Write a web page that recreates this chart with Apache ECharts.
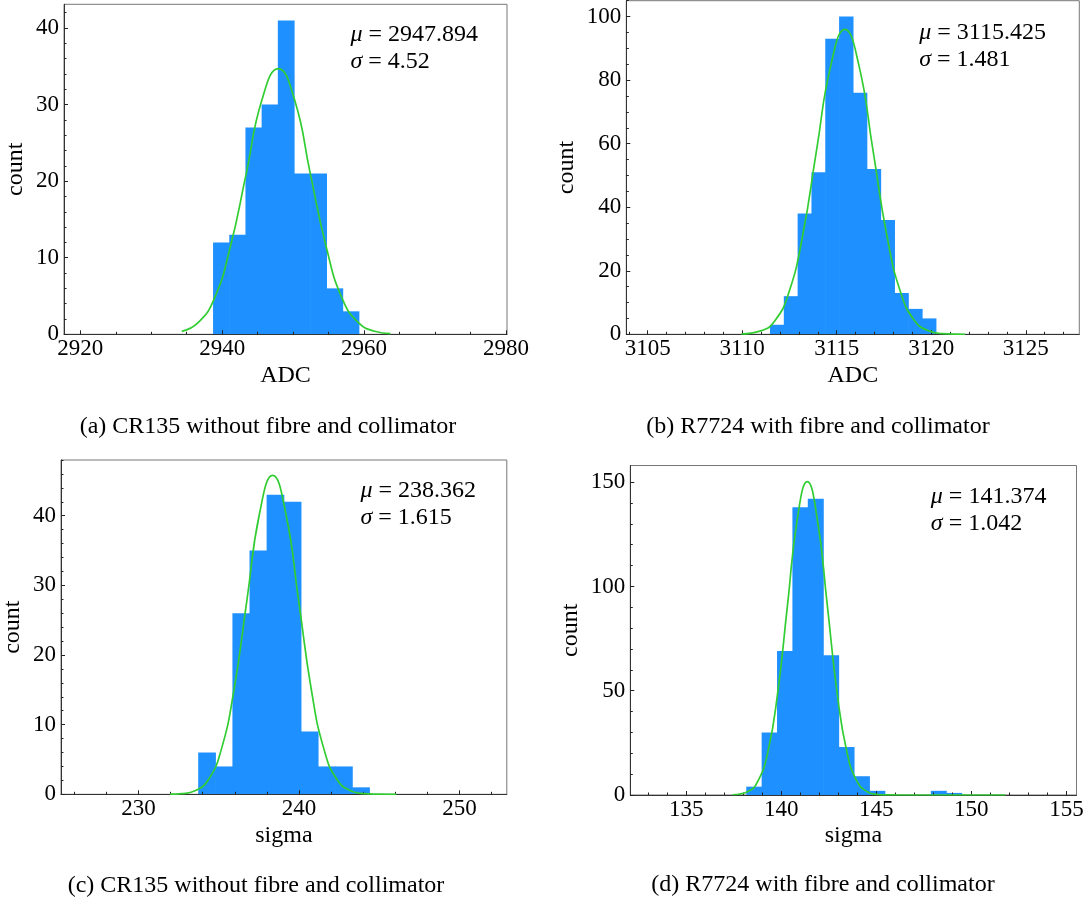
<!DOCTYPE html>
<html>
<head>
<meta charset="utf-8">
<script src="https://cdn.jsdelivr.net/npm/echarts@6/dist/echarts.min.js"></script>
<style>
  html, body { margin: 0; padding: 0; background: #fff; }
  #main { width: 1088px; height: 902px; }
</style>
</head>
<body>
<div id="main"></div>
<script>
// histogram bins: first edge, bin width, counts
var binStartA = 2938.71, binWidthA = 2.282;
var countsA = [12, 13, 27, 30, 41, 21, 21, 6, 3];
var binStartB = 3111.47, binWidthB = 0.731;
var countsB = [3, 12, 38, 51, 93, 100, 76, 52, 36, 13, 8, 5];
var binStartC = 233.72, binWidthC = 1.066;
var countsC = [6, 4, 26, 35, 43, 42, 9, 4, 4, 1];
var binStartD = 138.16, binWidthD = 0.809;
var countsD = [4, 30, 69, 138, 142, 67, 23, 9, 2, 0, 0, 0, 2, 1];

// fitted curves
var curveAX = [2934.3, 2936.6, 2938.9, 2941.1, 2943.4, 2945.6, 2947.9, 2950.2, 2952.4, 2954.7, 2956.9, 2959.2, 2961.5, 2963.7];
var curveAY = [0.39, 1.52, 4.70, 11.27, 21.05, 30.62, 34.7, 30.62, 21.05, 11.27, 4.70, 1.52, 0.39, 0.08];
var curveBX = [3109.95, 3110.98, 3111.72, 3112.46, 3113.20, 3113.94, 3114.69, 3115.43, 3116.17, 3116.91, 3117.65, 3118.39, 3119.13, 3119.87, 3120.61, 3121.79];
var curveBY = [0.10, 1.07, 4.21, 12.99, 31.17, 58.22, 84.72, 96.0, 84.72, 58.22, 31.17, 12.99, 4.21, 1.07, 0.21, 0.01];
var curveCX = [231.97, 232.71, 233.52, 234.33, 235.13, 235.94, 236.75, 237.55, 238.36, 239.17, 239.98, 240.78, 241.59, 242.40, 243.21, 244.01, 244.82, 246.07];
var curveCY = [0.02, 0.10, 0.51, 2.01, 6.20, 14.87, 27.78, 40.42, 45.8, 40.42, 27.78, 14.87, 6.20, 2.01, 0.51, 0.10, 0.02, 0];
var curveDX = [137.44, 138.25, 138.77, 139.29, 139.81, 140.33, 140.85, 141.37, 141.89, 142.42, 142.94, 143.46, 143.98, 144.50, 145.02, 145.54, 147.5, 149.5, 151.78];
var curveDY = [0.12, 1.67, 6.60, 20.34, 48.80, 91.16, 132.64, 150.3, 132.64, 91.16, 48.80, 20.34, 6.60, 1.67, 0.33, 0.05, 0, 0, 0];

// tick labels
var xTicksA = [2920, 2940, 2960, 2980], yTicksA = [0, 10, 20, 30, 40];
var xTicksB = [3105, 3110, 3115, 3120, 3125], yTicksB = [0, 20, 40, 60, 80, 100];
var xTicksC = [230, 240, 250], yTicksC = [0, 10, 20, 30, 40];
var xTicksD = [135, 140, 145, 150, 155], yTicksD = [0, 50, 100, 150];

var muA = '2947.894', sigmaA = '4.52';
var muB = '3115.425', sigmaB = '1.481';
var muC = '238.362', sigmaC = '1.615';
var muD = '141.374', sigmaD = '1.042';

var captionA = '(a) CR135 without fibre and collimator';
var captionB = '(b) R7724 with fibre and collimator';
var captionC = '(c) CR135 without fibre and collimator';
var captionD = '(d) R7724 with fibre and collimator';

var FONT = '"Liberation Serif", "Times New Roman", serif';
var BLUE = '#1E90FF';
var GREEN = '#32CD32';

function steps(from, to, step) {
    var out = [];
    for (var v = from; v <= to + 1e-9; v += step) out.push(+v.toFixed(6));
    return out;
}

function zip(xs, ys) {
    return xs.map(function (x, i) { return [x, ys[i]]; });
}

function bins(start, width, counts) {
    return counts.map(function (c, i) {
        return [start + i * width, start + (i + 1) * width, c];
    });
}

function plain(v) { return String(v); }

var panels = [
    {
        grid: { left: 64, top: 4.3, width: 443, height: 330 },
        xMin: 2917.7, xMax: 2980.14, yMin: 0, yMax: 43.1,
        xTicks: xTicksA, xMinor: steps(2920, 2980, 5),
        yTicks: yTicksA, yMinor: steps(0, 42, 2),
        bins: bins(binStartA, binWidthA, countsA), curve: zip(curveAX, curveAY),
        xName: 'ADC', yGap: 36,
        mu: muA, sigma: sigmaA, note: [350.5, 21.5],
        caption: captionA, cap: [268, 427]
    },
    {
        grid: { left: 626.3, top: 0.7, width: 453, height: 333.6 },
        xMin: 3103.87, xMax: 3127.83, yMin: 0, yMax: 105,
        xTicks: xTicksB, xMinor: steps(3104, 3127, 1),
        yTicks: yTicksB, yMinor: steps(0, 105, 5),
        bins: bins(binStartB, binWidthB, countsB), curve: zip(curveBX, curveBY),
        xName: 'ADC', yGap: 48,
        mu: muB, sigma: sigmaB, note: [919.2, 19],
        caption: captionB, cap: [818, 427]
    },
    {
        grid: { left: 59.2, top: 460, width: 447.6, height: 334.3 },
        xMin: 225.17, xMax: 252.95, yMin: 0, yMax: 48,
        xTicks: xTicksC, xMinor: steps(226, 252, 2),
        yTicks: yTicksC, yMinor: steps(0, 48, 2),
        bins: bins(binStartC, binWidthC, countsC), curve: zip(curveCX, curveCY),
        xName: 'sigma', yGap: 36,
        mu: muC, sigma: sigmaC, note: [360.5, 477.5],
        caption: captionC, cap: [256, 886]
    },
    {
        grid: { left: 630.3, top: 465.5, width: 446.2, height: 329.5 },
        xMin: 132.06, xMax: 155.53, yMin: 0, yMax: 158,
        xTicks: xTicksD, xMinor: steps(133, 155, 1),
        yTicks: yTicksD, yMinor: steps(0, 150, 10),
        bins: bins(binStartD, binWidthD, countsD), curve: zip(curveDX, curveDY),
        xName: 'sigma', yGap: 48,
        mu: muD, sigma: sigmaD, note: [930.8, 483.5],
        caption: captionD, cap: [823, 885]
    }
];

var option = {
    animation: false,
    backgroundColor: '#fff',
    grid: [], xAxis: [], yAxis: [], series: [], graphic: []
};

panels.forEach(function (p, i) {
    option.grid.push(Object.assign({ show: true, borderColor: '#777', borderWidth: 1, containLabel: false }, p.grid));
    // major x
    option.xAxis.push({
        type: 'value', gridIndex: i, position: 'bottom', min: p.xMin, max: p.xMax, z: 5,
        name: p.xName, nameLocation: 'middle', nameGap: 29,
        nameTextStyle: { fontFamily: FONT, fontSize: 24, color: '#000', lineHeight: 24 },
        axisLine: { show: true, onZero: false, lineStyle: { color: '#333', width: 1 } },
        axisTick: { show: true, inside: true, length: 4, customValues: p.xTicks, lineStyle: { color: '#222' } },
        axisLabel: { show: true, customValues: p.xTicks, formatter: plain, margin: 3, fontFamily: FONT, fontSize: 23, color: '#000' },
        splitLine: { show: false }
    });
    // minor x
    option.xAxis.push({
        type: 'value', gridIndex: i, position: 'bottom', offset: 0, min: p.xMin, max: p.xMax, z: 5,
        axisLine: { show: false, onZero: false },
        axisTick: { show: true, inside: true, length: 2.5, customValues: p.xMinor, lineStyle: { color: '#222' } },
        axisLabel: { show: false },
        splitLine: { show: false }
    });
    // major y
    option.yAxis.push({
        type: 'value', gridIndex: i, position: 'left', min: p.yMin, max: p.yMax, z: 5,
        name: 'count', nameLocation: 'middle', nameGap: p.yGap,
        nameTextStyle: { fontFamily: FONT, fontSize: 24, color: '#000' },
        axisLine: { show: true, onZero: false, lineStyle: { color: '#333', width: 1 } },
        axisTick: { show: true, inside: true, length: 4, customValues: p.yTicks, lineStyle: { color: '#222' } },
        axisLabel: { show: true, customValues: p.yTicks, formatter: plain, margin: 5, fontFamily: FONT, fontSize: 23, color: '#000' },
        splitLine: { show: false }
    });
    // minor y
    option.yAxis.push({
        type: 'value', gridIndex: i, position: 'left', offset: 0, min: p.yMin, max: p.yMax, z: 5,
        axisLine: { show: false, onZero: false },
        axisTick: { show: true, inside: true, length: 2.5, customValues: p.yMinor, lineStyle: { color: '#222' } },
        axisLabel: { show: false },
        splitLine: { show: false }
    });

    option.series.push({
        type: 'custom',
        xAxisIndex: 2 * i, yAxisIndex: 2 * i,
        z: 2,
        encode: { x: [0, 1], y: 2 },
        data: p.bins,
        renderItem: function (params, api) {
            if (api.value(2) <= 0) return null;
            var a = api.coord([api.value(0), api.value(2)]);
            var b = api.coord([api.value(1), 0]);
            return {
                type: 'rect',
                shape: { x: a[0], y: a[1], width: b[0] - a[0] + 0.6, height: b[1] - a[1] },
                style: { fill: BLUE }
            };
        }
    });
    option.series.push({
        type: 'line',
        xAxisIndex: 2 * i, yAxisIndex: 2 * i,
        z: 6,
        data: p.curve,
        showSymbol: false,
        smooth: 0.5,
        lineStyle: { color: GREEN, width: 1.7 }
    });

    option.graphic.push({
        type: 'text', x: p.note[0], y: p.note[1], z: 10,
        style: {
            text: '{m|μ} = ' + p.mu + '\n{m|σ} = ' + p.sigma,
            font: '24px ' + FONT, fill: '#000', lineHeight: 27,
            rich: { m: { fontStyle: 'italic', fontFamily: FONT, fontSize: 24, lineHeight: 27 } }
        }
    });
    option.graphic.push({
        type: 'text', x: p.cap[0], y: p.cap[1], z: 10,
        style: {
            text: p.caption, font: '24px ' + FONT, fill: '#000',
            align: 'center', verticalAlign: 'middle',
            textAlign: 'center', textVerticalAlign: 'middle'
        }
    });
});

var myChart = echarts.init(document.getElementById('main'));
myChart.setOption(option);
</script>
</body>
</html>
